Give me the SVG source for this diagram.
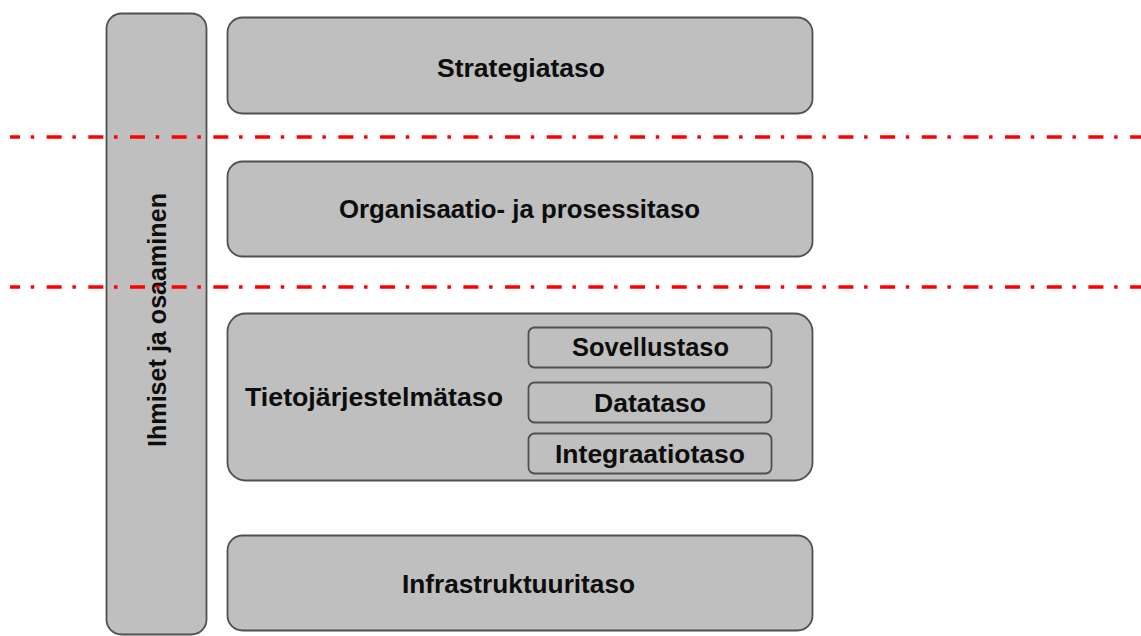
<svg xmlns="http://www.w3.org/2000/svg" width="1141" height="636" viewBox="0 0 1141 636">
  <style>
    .box { fill: #bfbfbf; stroke: #505050; stroke-width: 1.8; }
    .lbl { font-family: "Liberation Sans", Arial, sans-serif; font-weight: bold; font-size: 26.5px; fill: #0d0d0d; }
    .mid { text-anchor: middle; }
    .sep { stroke: #ff0000; stroke-width: 3.5; fill: none; stroke-dasharray: 15 10.7 3.5 12.47; stroke-dashoffset: 5; }
  </style>
  <rect width="1141" height="636" fill="#ffffff"/>

  <!-- vertical column: people and competence -->
  <g id="ihmiset">
    <rect class="box" x="106.5" y="13.5" width="100" height="621" rx="15"/>
    <text class="lbl mid" transform="translate(166,320) rotate(-90)" x="0" y="0" textLength="254" lengthAdjust="spacingAndGlyphs">Ihmiset ja osaaminen</text>
  </g>

  <g id="strategiataso">
    <rect class="box" x="227.5" y="17.5" width="585" height="96" rx="15"/>
    <text class="lbl mid" x="521" y="77" textLength="168" lengthAdjust="spacingAndGlyphs">Strategiataso</text>
  </g>

  <g id="organisaatiotaso">
    <rect class="box" x="227.5" y="161.5" width="585" height="95" rx="15"/>
    <text class="lbl mid" x="519.5" y="218" textLength="361" lengthAdjust="spacingAndGlyphs">Organisaatio- ja prosessitaso</text>
  </g>

  <g id="tietojarjestelmataso">
    <rect class="box" x="227.5" y="313.5" width="585" height="167" rx="18"/>
    <text class="lbl" x="245" y="406" textLength="258" lengthAdjust="spacingAndGlyphs">Tietojärjestelmätaso</text>
  </g>

  <g id="sovellustaso">
    <rect class="box" x="528.5" y="327.5" width="243" height="40" rx="6"/>
    <text class="lbl mid" x="650.5" y="356" textLength="157" lengthAdjust="spacingAndGlyphs">Sovellustaso</text>
  </g>

  <g id="datataso">
    <rect class="box" x="528.5" y="382.5" width="243" height="40" rx="6"/>
    <text class="lbl mid" x="650" y="412" textLength="112" lengthAdjust="spacingAndGlyphs">Datataso</text>
  </g>

  <g id="integraatiotaso">
    <rect class="box" x="528.5" y="433.5" width="243" height="40" rx="6"/>
    <text class="lbl mid" x="650" y="463" textLength="190" lengthAdjust="spacingAndGlyphs">Integraatiotaso</text>
  </g>

  <g id="infrastruktuuritaso">
    <rect class="box" x="227.5" y="535.5" width="585" height="95" rx="15"/>
    <text class="lbl mid" x="518.5" y="593" textLength="233" lengthAdjust="spacingAndGlyphs">Infrastruktuuritaso</text>
  </g>

  <!-- dash-dot boundary lines between the levels -->
  <g id="connectors">
    <line class="sep" x1="10" y1="137" x2="1141" y2="137"/>
    <line class="sep" x1="10" y1="287" x2="1141" y2="287"/>
  </g>
</svg>
